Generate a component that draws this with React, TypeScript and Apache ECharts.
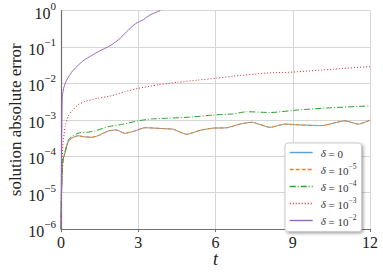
import React, { useEffect, useRef } from "react";
import * as echarts from "echarts";

const seriesNames = ["d0", "d5", "d4", "d3", "d2"];
const legendExp = ["", "−5", "−4", "−3", "−2"];
const colors = ["#5a9fd4", "#ff7f0e", "#2ca02c", "#d62728", "#9467bd"];
const xTicks = [0, 3, 6, 9, 12];

const tBlue = [0, 0.02, 0.05, 0.08, 0.155, 0.27, 0.4, 0.66, 0.92, 1.18, 1.44, 1.83, 2.15, 2.47, 2.86, 3.25, 3.64, 4.15, 4.36, 4.88, 5.4, 5.91, 6.44, 6.95, 7.41, 8.12, 8.7, 9.22, 10.12, 11.03, 11.55, 12];
const vBlue = [1e-6, 1e-5, 3.98e-5, 7.94e-5, 1.23e-4, 2.4e-4, 3.09e-4, 3.63e-4, 3.39e-4, 3.31e-4, 3.63e-4, 4.9e-4, 5.25e-4, 4.27e-4, 4.9e-4, 6.03e-4, 5.89e-4, 5.62e-4, 5.5e-4, 3.98e-4, 5.13e-4, 5.89e-4, 6.03e-4, 7.59e-4, 8.51e-4, 6.2e-4, 7.59e-4, 7.24e-4, 6.92e-4, 9.33e-4, 7.59e-4, 9.77e-4];
const tOrange = tBlue;
const vOrange = [1e-6, 1e-5, 3.98e-5, 7.94e-5, 1.23e-4, 2.4e-4, 3.09e-4, 3.63e-4, 3.39e-4, 3.31e-4, 3.63e-4, 4.9e-4, 5.25e-4, 4.27e-4, 4.9e-4, 6.03e-4, 5.89e-4, 5.62e-4, 5.5e-4, 3.98e-4, 5.13e-4, 5.89e-4, 6.03e-4, 7.59e-4, 8.51e-4, 6.2e-4, 7.59e-4, 7.24e-4, 6.92e-4, 9.33e-4, 7.59e-4, 9.77e-4];
const tGreen = [0, 0.02, 0.05, 0.08, 0.155, 0.27, 0.4, 0.66, 1.05, 1.31, 1.83, 2.35, 2.99, 3.51, 4.15, 5.14, 5.91, 6.69, 7.21, 8.12, 9.22, 10.51, 12];
const vGreen = [1e-6, 1e-5, 3.98e-5, 7.94e-5, 1.32e-4, 2.63e-4, 3.39e-4, 4.27e-4, 4.57e-4, 4.9e-4, 6.46e-4, 7.41e-4, 9.33e-4, 1.05e-3, 1.1e-3, 1.2e-3, 1.35e-3, 1.45e-3, 1.66e-3, 1.58e-3, 1.86e-3, 2.14e-3, 2.4e-3];
const tRed = [0, 0.03, 0.07, 0.16, 0.28, 0.4, 0.66, 0.92, 1.44, 1.96, 2.47, 2.99, 3.77, 4.54, 5.32, 6.03, 6.69, 7.99, 9.02, 10.58, 12];
const vRed = [1e-6, 3.16e-5, 1.82e-4, 6.46e-4, 1.26e-3, 1.66e-3, 2.57e-3, 3.16e-3, 3.89e-3, 4.57e-3, 5.89e-3, 7.24e-3, 9.12e-3, 1.07e-2, 1.23e-2, 1.38e-2, 1.58e-2, 1.91e-2, 2.04e-2, 2.45e-2, 2.88e-2];
const tPurple = [0, 0.02, 0.05, 0.12, 0.22, 0.45, 0.67, 0.9, 1.45, 1.95, 2.3, 2.55, 2.9, 3.2, 3.46, 3.86];
const vPurple = [1e-6, 1e-4, 4.27e-3, 8.13e-3, 1.23e-2, 2.19e-2, 3.16e-2, 4.37e-2, 7.41e-2, 0.112, 0.174, 0.263, 0.437, 0.562, 0.759, 1.0];

const allT = [tBlue, tOrange, tGreen, tRed, tPurple];
const allV = [vBlue, vOrange, vGreen, vRed, vPurple];
const lineTypes: any[] = ["solid", [4, 2], [6, 2, 1, 2], [1, 2], "solid"];

const FONT = "Liberation Serif";

export default function App() {
  const ref = useRef<HTMLDivElement>(null);
  useEffect(() => {
    const chart = echarts.init(ref.current!, undefined, { renderer: "svg" });
    const series = seriesNames.map((name, i) => ({
      name,
      type: "line",
      data: allT[i].map((t, j) => [t, allV[i][j]]),
      showSymbol: false,
      symbol: "none",
      smooth: 0.2,
      clip: true,
      lineStyle: { color: colors[i], width: 1, type: lineTypes[i] },
      itemStyle: { color: colors[i] },
      z: i === 0 ? 2 : 3,
    }));
    chart.setOption({
      animation: false,
      backgroundColor: "#fff",
      grid: { left: 61, right: 13, top: 10.5, bottom: 44, containLabel: false, outerBoundsMode: "none" },
      xAxis: {
        type: "value",
        min: 0,
        max: 12,
        interval: 3,
        name: "t",
        nameLocation: "middle",
        nameGap: 30,
        nameMoveOverlap: false,
        nameTextStyle: { fontFamily: FONT, fontStyle: "italic", fontSize: 18, lineHeight: 13, color: "#222", verticalAlign: "middle" },
        axisLine: { show: true, lineStyle: { color: "#707070", width: 1.2 } },
        axisTick: { show: true, length: 3, lineStyle: { color: "#707070" } },
        axisLabel: { fontFamily: FONT, fontSize: 16, lineHeight: 14, color: "#222", margin: 6, formatter: (v: number) => (xTicks.includes(v) ? String(v) : "") },
        splitLine: { show: true, lineStyle: { color: "#d6d6d6", width: 1 } },
      },
      yAxis: {
        type: "log",
        logBase: 10,
        min: 1e-6,
        max: 1,
        name: "solution absolute error",
        nameLocation: "middle",
        nameGap: 46,
        nameMoveOverlap: false,
        nameTextStyle: { fontFamily: FONT, fontSize: 17, color: "#222", verticalAlign: "middle" },
        axisLine: { show: true, lineStyle: { color: "#707070", width: 1.2 } },
        axisTick: { show: false },
        axisLabel: {
          margin: 5,
          formatter: (v: number) => {
            const e = Math.round(Math.log10(v));
            return `{b|10}{s|${e < 0 ? "−" + -e : e}}`;
          },
          rich: {
            b: { fontFamily: FONT, fontSize: 16, color: "#222", padding: [5, 0, 0, 0] },
            s: { fontFamily: FONT, fontSize: 11, color: "#222", verticalAlign: "top" },
          },
        },
        splitLine: { show: true, lineStyle: { color: "#d6d6d6", width: 1 } },
      },
      legend: {
        orient: "vertical",
        left: 285,
        top: 143,
        padding: [4, 5, 4, 4],
        itemGap: 3,
        itemWidth: 23,
        itemHeight: 12,
        backgroundColor: "#fff",
        borderColor: "#ccc",
        borderWidth: 1,
        borderRadius: 3,
        shadowBlur: 3,
        shadowColor: "rgba(0,0,0,0.35)",
        shadowOffsetX: 1.5,
        shadowOffsetY: 1.5,
        itemStyle: { opacity: 0 },
        lineStyle: { width: 1.4 },
        data: seriesNames,
        formatter: (name: string) => {
          const i = seriesNames.indexOf(name);
          return i === 0 ? "{i|δ} {n|= 0}" : `{i|δ} {n|= 10}{s|${legendExp[i]}}`;
        },
        textStyle: {
          fontFamily: FONT,
          fontSize: 11,
          color: "#333",
          padding: [0, 0, 0, 3],
          rich: {
            i: { fontFamily: FONT, fontStyle: "italic", fontSize: 11, color: "#333" },
            n: { fontFamily: FONT, fontSize: 11, color: "#333", padding: [3, 0, 0, 0] },
            s: { fontFamily: FONT, fontSize: 7.5, color: "#333", verticalAlign: "top" },
          },
        },
      },
      series,
    });
    return () => chart.dispose();
  }, []);
  return <div ref={ref} style={{ position: "absolute", left: 0, top: 0, width: 383, height: 273 }} />;
}
